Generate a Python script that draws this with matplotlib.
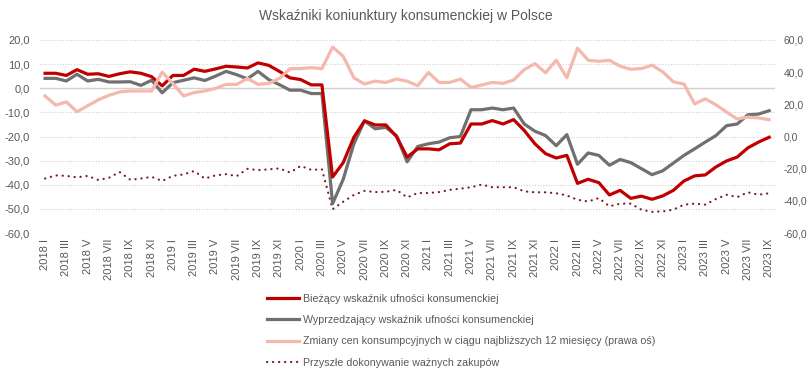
import numpy as np
import matplotlib
matplotlib.use("Agg")
import matplotlib.pyplot as plt

plt.rcParams['font.family'] = ['Liberation Sans', 'DejaVu Sans']

# monthly data 2018 I .. 2023 IX
years = [2018, 2019, 2020, 2021, 2022, 2023]
roman = ["I", "II", "III", "IV", "V", "VI", "VII", "VIII", "IX", "X", "XI", "XII"]
months = [f"{y} {r}" for y in years for r in roman][:69]

biezacy = [6.2, 6.2, 5.3, 7.7, 5.8, 6.0, 4.9, 6.0, 6.8, 6.2, 4.8, 1.0,
           5.3, 5.3, 7.9, 7.0, 8.0, 9.1, 8.8, 8.4, 10.5, 9.5, 7.0, 4.3,
           3.6, 1.4, 1.4, -36.8, -30.8, -20.3, -13.5, -15.2, -15.2, -20.0, -28.5, -25.1,
           -25.1, -25.5, -23.0, -22.7, -14.8, -14.8, -13.4, -14.8, -13.0, -17.5, -23.0, -27.1,
           -28.9, -27.8, -39.4, -37.7, -39.1, -44.2, -42.3, -45.6, -44.7, -46.0, -44.6, -42.3,
           -38.4, -36.3, -35.9, -32.6, -30.1, -28.5, -24.7, -22.3, -20.3]

wyprzedzajacy = [4.1, 4.1, 3.0, 5.8, 3.0, 3.7, 2.6, 2.6, 2.7, 1.2, 3.3, -1.9,
                 2.3, 3.3, 4.3, 3.2, 5.0, 7.0, 5.6, 3.9, 7.0, 3.6, 1.5, -0.8,
                 -0.8, -2.2, -2.2, -47.8, -37.7, -23.0, -13.5, -16.8, -16.2, -19.6, -30.5, -24.1,
                 -23.0, -22.3, -20.5, -20.0, -8.9, -8.9, -8.2, -8.9, -8.2, -14.8, -17.8, -19.6,
                 -23.8, -19.2, -31.5, -26.8, -27.8, -31.9, -29.5, -30.8, -33.3, -35.8, -34.2, -31.0,
                 -27.8, -25.1, -22.3, -19.6, -15.5, -14.8, -11.0, -10.7, -9.3]

ceny = [25.2, 19.5, 21.5, 15.4, 19.1, 22.8, 25.6, 27.7, 28.3, 28.3, 28.3, 40.0,
        33.0, 25.2, 27.3, 28.3, 29.9, 32.4, 32.4, 36.1, 32.4, 33.0, 36.1, 42.2,
        42.2, 42.8, 42.2, 55.6, 49.8, 36.5, 32.6, 34.4, 33.6, 35.7, 34.4, 31.6,
        39.8, 33.6, 33.6, 35.7, 30.5, 32.0, 33.6, 33.0, 35.1, 41.6, 45.3, 39.6,
        47.4, 36.5, 54.9, 47.4, 46.7, 47.4, 43.7, 41.8, 42.2, 44.3, 40.2, 34.0,
        32.6, 20.3, 23.4, 19.7, 15.2, 10.9, 12.1, 11.5, 10.5]

zakupy = [-37.4, -36.1, -36.3, -36.9, -36.3, -38.0, -37.1, -34.7, -37.9, -37.4, -36.7, -38.4,
          -36.3, -35.7, -34.3, -37.4, -36.1, -35.6, -36.4, -33.4, -33.9, -33.6, -33.2, -34.9,
          -32.2, -33.8, -33.6, -50.1, -47.0, -44.2, -42.5, -43.0, -42.9, -42.1, -45.2, -43.4,
          -43.4, -43.0, -42.1, -41.6, -41.0, -39.9, -41.0, -41.0, -41.0, -42.7, -43.1, -43.1,
          -43.5, -44.4, -46.2, -46.9, -45.5, -48.9, -47.8, -47.8, -50.3, -51.2, -51.0, -50.3,
          -48.2, -47.8, -48.2, -45.9, -44.1, -45.1, -43.1, -44.1, -43.5]

labels = ["Bieżący wskaźnik ufności konsumenckiej",
          "Wyprzedzający wskaźnik ufności konsumenckiej",
          "Zmiany cen konsumpcyjnych w ciągu najbliższych 12 miesięcy (prawa oś)",
          "Przyszłe dokonywanie ważnych zakupów"]

txt = "#595959"
x = np.arange(len(months))

fig = plt.figure(figsize=(8.11, 3.70), dpi=100)
ax = fig.add_axes([0.049, 0.370, 0.906, 0.522])
ax2 = ax.twinx()

l1, = ax.plot(x, biezacy, color="#C00000", lw=2.3, zorder=4)
l2, = ax.plot(x, wyprzedzajacy, color="#707070", lw=2.3, zorder=3)
l4, = ax.plot(x, zakupy, color="#7B1F22", lw=1.6, linestyle=(0, (0.1, 2.6)),
              dash_capstyle="round", zorder=2)
l3, = ax2.plot(x, ceny, color="#F4B8AC", lw=2.3)

ax.set_xlim(-0.5, len(x) - 0.5)
ax.set_ylim(-60, 20)
ax2.set_ylim(-60, 60)
ax.set_yticks(np.arange(-60, 21, 10))
ax2.set_yticks(np.arange(-60, 61, 20))
ax.yaxis.set_major_formatter(lambda v, p: f"{v:.1f}".replace(".", ","))
ax2.yaxis.set_major_formatter(lambda v, p: f"{v:.1f}".replace(".", ","))

ax.set_xticks(x[::2])
ax.set_xticklabels(months[::2], rotation=90)

for a in (ax, ax2):
    for s in a.spines.values():
        s.set_visible(False)
ax.tick_params(axis="both", length=0, colors=txt, labelsize=8)
ax.tick_params(axis="y", pad=7)
ax.tick_params(axis="x", pad=4)
ax2.tick_params(axis="y", length=0, colors=txt, labelsize=7.5, pad=6.5)

for v in np.arange(-60, 21, 10):
    if v == 0:
        ax.axhline(v, color="#D0D0D0", lw=1.0, zorder=1)
    else:
        ax.axhline(v, color="#D0D0D0", lw=0.8, linestyle=(0, (1, 1.5)), zorder=1)

fig.text(0.5, 1 - 16 / 370, "Wskaźniki koniunktury konsumenckiej w Polsce",
         ha="center", va="center", fontsize=10, color=txt)

leg = fig.legend([l1, l2, l3, l4], labels, loc="upper left",
                 bbox_to_anchor=(267 / 811, 1 - 294 / 370), frameon=False,
                 fontsize=7.7, handlelength=3.0, handletextpad=0.35, labelspacing=1.05,
                 borderaxespad=0, borderpad=0)
for t in leg.get_texts():
    t.set_color(txt)

plt.savefig("out.png", dpi=100)
